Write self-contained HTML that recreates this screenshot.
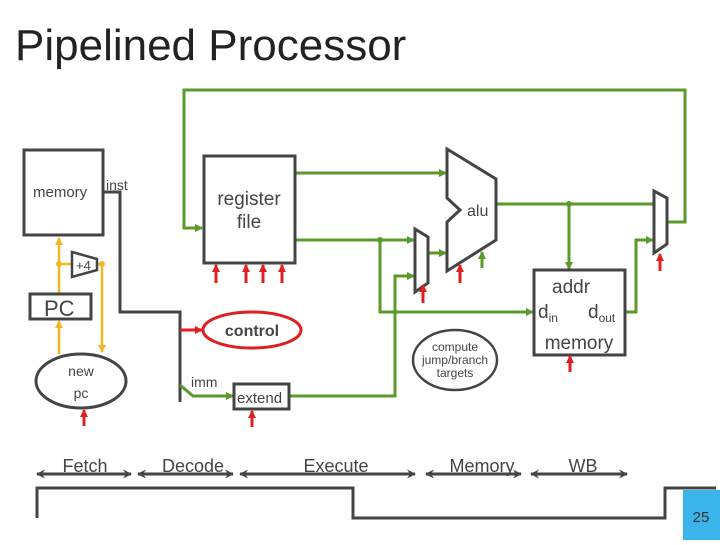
<!DOCTYPE html>
<html><head><meta charset="utf-8"><style>
body{margin:0;width:720px;height:540px;background:#fff;overflow:hidden;font-family:"Liberation Sans",sans-serif;}
</style></head><body>
<svg width="720" height="540" viewBox="0 0 720 540" xmlns="http://www.w3.org/2000/svg" font-family="Liberation Sans, sans-serif">
<defs>
<marker id="g" markerWidth="8" markerHeight="8" refX="7" refY="4" orient="auto" markerUnits="userSpaceOnUse"><path d="M0,0L8,4L0,8z" fill="#5a9a2a"/></marker>
<marker id="r" markerWidth="8" markerHeight="8" refX="7" refY="4" orient="auto" markerUnits="userSpaceOnUse"><path d="M0,0L8,4L0,8z" fill="#e02020"/></marker>
<marker id="y" markerWidth="8" markerHeight="8" refX="7" refY="4" orient="auto" markerUnits="userSpaceOnUse"><path d="M0,0L8,4L0,8z" fill="#f0b820"/></marker>
<marker id="k" markerWidth="9" markerHeight="9" refX="8" refY="4.5" orient="auto-start-reverse" markerUnits="userSpaceOnUse"><path d="M0,0L9,4.5L0,9L3,4.5z" fill="#444"/></marker>
</defs>
<text x="15" y="60" font-size="44" fill="#222">Pipelined Processor</text>

<polyline points="103,192 120,192 120,312 180,312 180,402" fill="none" stroke="#444" stroke-width="3"/>
<rect x="24" y="150" width="79" height="85" fill="#fff" stroke="#444" stroke-width="3"/>
<text x="33" y="197" font-size="15" fill="#444">memory</text>
<text x="106" y="190" font-size="14" fill="#444">inst</text>

<g stroke="#f0b820" stroke-width="2.5" fill="none">
<line x1="59" y1="293" x2="59" y2="238" marker-end="url(#y)"/>
<line x1="59" y1="264" x2="74" y2="264"/>
<line x1="97" y1="264" x2="102" y2="264"/>
<line x1="102" y1="264" x2="102" y2="352" marker-end="url(#y)"/>
<line x1="59" y1="354" x2="59" y2="321" marker-end="url(#y)"/>
</g>
<circle cx="59" cy="264" r="3" fill="#f0b820"/><circle cx="102" cy="264" r="3" fill="#f0b820"/>
<polygon points="72,252 97,259 97,270 72,277" fill="#fff" stroke="#444" stroke-width="2.5"/>
<text x="76" y="270" font-size="13" fill="#444">+4</text>
<rect x="30" y="294" width="61" height="25" fill="#fff" stroke="#444" stroke-width="3"/>
<text x="44" y="316" font-size="22" fill="#444">PC</text>
<ellipse cx="81" cy="381" rx="45" ry="27" fill="#fff" stroke="#444" stroke-width="3"/>
<text x="81" y="376" font-size="14" fill="#444" text-anchor="middle">new</text>
<text x="81" y="398" font-size="14" fill="#444" text-anchor="middle">pc</text>

<g stroke="#5a9a2a" stroke-width="3" fill="none">
<polyline points="667,222 685,222 685,90 184,90 184,228 202,228" marker-end="url(#g)"/>
<line x1="295" y1="173" x2="446" y2="173" marker-end="url(#g)"/>
<line x1="295" y1="240" x2="414" y2="240" marker-end="url(#g)"/>
<polyline points="380,240 380,312 533,312" marker-end="url(#g)"/>
<polyline points="289,396 395,396 395,276 414,276" marker-end="url(#g)"/>
<line x1="428" y1="253" x2="446" y2="253" marker-end="url(#g)"/>
<line x1="496" y1="204" x2="654" y2="204"/>
<line x1="569" y1="204" x2="569" y2="269" marker-end="url(#g)"/>
<line x1="482" y1="268" x2="482" y2="252" marker-end="url(#g)"/>
<polyline points="180,385 193,396 233,396" marker-end="url(#g)"/>
</g>
<polyline points="625,312 636,312 636,240 653,240" fill="none" stroke="#5a9a2a" stroke-width="3" marker-end="url(#g)"/>
<circle cx="380" cy="240" r="3" fill="#5a9a2a"/><circle cx="569" cy="204" r="3" fill="#5a9a2a"/>

<rect x="204" y="156" width="91" height="107" fill="#fff" stroke="#444" stroke-width="3"/>
<text x="249" y="205" font-size="19" fill="#444" text-anchor="middle">register</text>
<text x="249" y="228" font-size="19" fill="#444" text-anchor="middle">file</text>

<ellipse cx="252" cy="330" rx="49" ry="18" fill="#fff" stroke="#e02020" stroke-width="3"/>
<text x="252" y="336" font-size="16" font-weight="bold" fill="#444" text-anchor="middle">control</text>
<line x1="180" y1="330" x2="202" y2="330" stroke="#e02020" stroke-width="3" marker-end="url(#r)"/>
<text x="191" y="387" font-size="14" fill="#444">imm</text>
<rect x="234" y="384" width="55" height="25" fill="#fff" stroke="#444" stroke-width="3"/>
<text x="237" y="403" font-size="15" fill="#444">extend</text>

<polygon points="447,149 496,179 496,240 447,271 447,222 460,210 447,198" fill="#fff" stroke="#444" stroke-width="3"/>
<text x="467" y="216" font-size="16" fill="#444">alu</text>
<polygon points="415,229 428,237 428,283 415,292" fill="#fff" stroke="#444" stroke-width="3"/>
<polygon points="654,191 667,198 667,244 654,253" fill="#fff" stroke="#444" stroke-width="3"/>

<rect x="534" y="270" width="91" height="85" fill="#fff" stroke="#444" stroke-width="3"/>
<text x="552" y="293" font-size="19" fill="#444">addr</text>
<text x="538" y="318" font-size="19" fill="#444">d<tspan font-size="12" dy="4">in</tspan></text>
<text x="588" y="318" font-size="19" fill="#444">d<tspan font-size="12" dy="4">out</tspan></text>
<text x="579" y="349" font-size="19" fill="#444" text-anchor="middle">memory</text>

<ellipse cx="455" cy="360" rx="42" ry="30" fill="#fff" stroke="#444" stroke-width="2.5"/>
<text x="455" y="351" font-size="12" fill="#444" text-anchor="middle">compute</text>
<text x="455" y="364" font-size="12" fill="#444" text-anchor="middle">jump/branch</text>
<text x="455" y="377" font-size="12" fill="#444" text-anchor="middle">targets</text>

<g stroke="#e02020" stroke-width="3" marker-end="url(#r)">
<line x1="216" y1="283" x2="216" y2="265"/>
<line x1="246" y1="283" x2="246" y2="265"/>
<line x1="263" y1="283" x2="263" y2="265"/>
<line x1="282" y1="283" x2="282" y2="265"/>
<line x1="84" y1="426" x2="84" y2="410"/>
<line x1="252" y1="427" x2="252" y2="411"/>
<line x1="423" y1="303" x2="423" y2="285"/>
<line x1="460" y1="283" x2="460" y2="265"/>
<line x1="660" y1="271" x2="660" y2="254"/>
<line x1="570" y1="372" x2="570" y2="356"/>
</g>

<g fill="#444" font-size="18" text-anchor="middle">
<text x="85" y="472">Fetch</text><text x="193" y="472">Decode</text><text x="336" y="472">Execute</text><text x="482" y="472">Memory</text><text x="583" y="472">WB</text>
</g>
<g stroke="#444" stroke-width="3" marker-start="url(#k)" marker-end="url(#k)">
<line x1="37" y1="474" x2="131" y2="474"/>
<line x1="138" y1="474" x2="233" y2="474"/>
<line x1="240" y1="474" x2="415" y2="474"/>
<line x1="426" y1="474" x2="521" y2="474"/>
<line x1="531" y1="474" x2="627" y2="474"/>
</g>
<polyline points="37,518 37,488 353,488 353,518 665,518 665,488 716,488" fill="none" stroke="#444" stroke-width="3"/>
<rect x="683" y="490" width="37" height="50" fill="#3ab4ea"/>
<text x="701" y="522" font-size="15" fill="#333" text-anchor="middle">25</text>
</svg>
</body></html>
